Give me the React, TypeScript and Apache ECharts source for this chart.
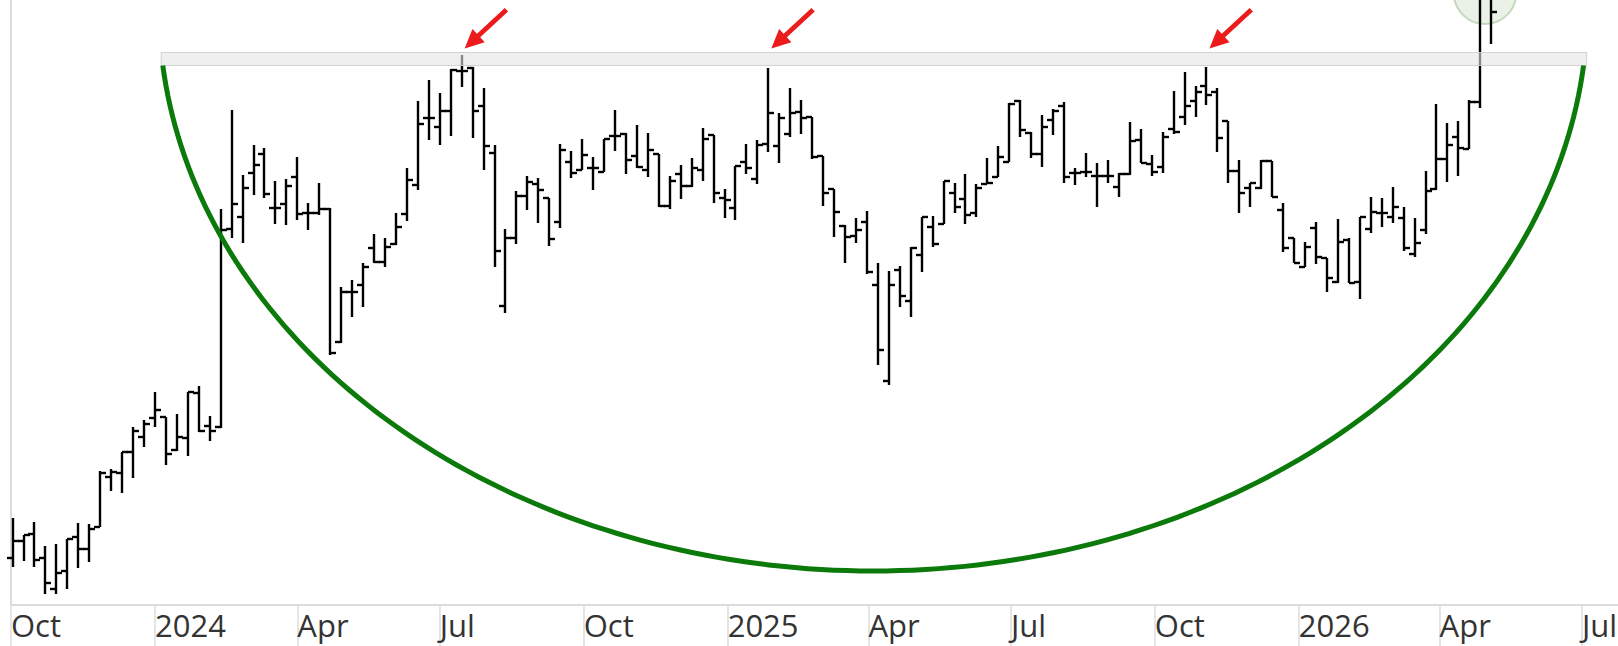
import React, { useEffect, useRef } from "react";
import * as echarts from "echarts";

const DAY_MS = 86400000;
const FIRST_WEEK = "2023-10-02";
const AXIS_START = "2023-10-01";
const AXIS_END = "2026-07-24";
const MONTHS = ["Jan", "Feb", "Mar", "Apr", "May", "Jun", "Jul", "Aug", "Sep", "Oct", "Nov", "Dec"];

// Weekly OHLC (one bar per week starting FIRST_WEEK)
const opens = [
  6.7, 8.4, 9.1, 6.7, 3.6, 5.4, 8.8, 7.6, 9.8, 14.8,
  15.2, 17.3, 18.8, 20.7, 20.8, 17.5, 18.7, 23.2, 19.9, 19.8,
  39.6, 40.8, 45.2, 47.1, 41.7, 42.1, 44.8, 41.2, 41.2, 41.6,
  28.3, 33.3, 34.0, 37.7, 36.3, 38.1, 41.1, 44.0, 50.7, 49.8,
  51.4, 55.4, 55.7, 51.9, 47.2, 31.9, 38.7, 42.9, 44.1, 42.7,
  40.3, 46.3, 45.5, 45.7, 45.3, 48.9, 49.1, 46.9, 45.5, 47.1,
  41.9, 45.1, 43.9, 45.5, 49.0, 42.7, 41.7, 46.3, 44.6, 48.1,
  47.9, 49.1, 51.3, 50.8, 46.9, 43.6, 39.9, 38.9, 40.3, 34.0,
  24.4, 35.5, 32.4, 37.0, 39.8, 40.1, 43.2, 42.6, 41.2, 44.1,
  44.8, 46.3, 52.4, 49.2, 47.1, 50.5, 51.9, 45.2, 45.3, 44.9,
  44.9, 43.8, 45.1, 48.5, 46.1, 45.8, 49.6, 50.8, 52.4, 53.9,
  53.3, 50.4, 45.4, 43.7, 43.7, 46.4, 41.5, 38.7, 35.8, 39.7,
  36.7, 34.3, 38.5, 34.3, 39.6, 41.2, 40.8, 40.7, 37.1, 39.5,
  43.6, 46.6, 48.8, 47.6, 52.3, 63.3,
];
const highs = [
  10.7, 9.0, 10.3, 7.9, 8.1, 8.6, 10.2, 10.1, 15.4, 15.6,
  17.3, 19.8, 20.5, 23.3, 20.8, 21.1, 23.3, 23.9, 20.9, 41.6,
  51.5, 45.0, 48.0, 47.7, 44.4, 44.6, 46.8, 42.2, 44.2, 41.7,
  33.8, 34.5, 36.2, 39.1, 38.7, 41.2, 45.7, 52.4, 54.5, 53.2,
  55.6, 57.0, 55.8, 53.7, 48.0, 39.6, 43.4, 44.9, 44.7, 42.7,
  48.1, 47.4, 48.6, 46.8, 48.6, 51.5, 49.2, 50.0, 49.2, 47.1,
  44.9, 46.0, 46.7, 49.7, 49.0, 43.6, 45.9, 48.1, 48.5, 55.7,
  51.2, 53.7, 52.5, 50.8, 46.9, 43.6, 40.0, 40.7, 41.4, 36.2,
  35.4, 35.9, 37.8, 40.8, 40.9, 44.4, 44.2, 45.1, 44.1, 46.7,
  47.9, 52.2, 52.5, 49.3, 51.0, 51.6, 52.3, 45.7, 47.2, 46.2,
  46.5, 45.2, 50.3, 49.6, 47.0, 49.3, 53.4, 55.3, 53.9, 55.8,
  53.7, 50.4, 46.5, 44.2, 46.5, 46.4, 42.2, 38.7, 38.3, 40.3,
  36.7, 40.6, 38.7, 40.8, 42.8, 42.7, 43.8, 41.8, 40.7, 45.4,
  52.1, 50.2, 50.4, 52.5, 65.0, 64.5,
];
const lows = [
  5.8, 6.4, 5.8, 3.1, 3.1, 3.6, 5.7, 6.3, 9.8, 13.4,
  13.2, 14.7, 17.8, 19.8, 16.0, 17.4, 16.9, 19.3, 18.4, 19.7,
  38.7, 38.2, 43.0, 42.7, 40.1, 40.0, 40.5, 39.5, 41.0, 27.0,
  28.2, 30.8, 31.8, 36.2, 35.8, 38.0, 40.4, 43.5, 48.5, 48.0,
  48.9, 53.8, 48.7, 45.5, 35.8, 31.2, 38.1, 41.5, 40.2, 37.9,
  39.7, 44.7, 45.5, 43.5, 45.3, 47.4, 45.1, 45.7, 44.8, 41.8,
  41.6, 42.6, 43.8, 44.4, 42.2, 40.7, 40.5, 45.1, 44.1, 47.3,
  46.2, 48.8, 49.1, 46.6, 41.9, 38.8, 36.2, 38.2, 35.1, 26.0,
  24.0, 31.8, 30.8, 35.3, 37.8, 40.1, 41.2, 40.1, 40.8, 44.1,
  44.8, 46.3, 48.8, 46.7, 45.8, 49.0, 44.2, 44.0, 44.8, 41.8,
  44.2, 42.8, 45.0, 46.2, 44.9, 45.2, 49.1, 50.0, 50.8, 52.0,
  47.3, 44.2, 41.2, 41.8, 43.6, 42.8, 37.3, 36.2, 35.8, 36.1,
  33.3, 34.2, 34.2, 32.6, 39.2, 39.8, 40.2, 37.4, 36.8, 39.1,
  43.5, 44.3, 44.9, 47.6, 51.7, 58.1,
];
const closes = [
  8.4, 9.0, 6.5, 4.2, 5.2, 8.6, 7.6, 9.6, 15.2, 15.3,
  17.3, 19.4, 20.1, 21.5, 17.1, 18.8, 23.3, 19.4, 19.4, 39.5,
  42.1, 43.7, 46.0, 43.1, 41.7, 43.9, 41.1, 41.2, 41.6, 27.2,
  33.3, 33.3, 35.8, 36.3, 37.8, 39.8, 44.5, 50.1, 50.7, 51.4,
  55.5, 55.4, 51.4, 47.9, 37.4, 38.7, 42.9, 44.3, 43.5, 38.6,
  47.5, 45.2, 47.0, 45.7, 48.6, 48.9, 46.5, 45.8, 47.5, 41.9,
  44.4, 43.9, 45.7, 48.6, 43.2, 42.5, 45.9, 45.7, 48.0, 51.2,
  50.7, 51.2, 50.7, 46.8, 43.2, 41.3, 38.8, 39.5, 35.3, 27.5,
  34.0, 32.9, 37.7, 40.8, 38.1, 44.4, 41.8, 41.0, 43.7, 44.2,
  46.8, 52.1, 49.5, 47.1, 49.8, 51.4, 44.8, 45.2, 45.3, 44.9,
  44.9, 45.1, 48.4, 46.2, 45.3, 48.8, 49.3, 51.9, 53.3, 53.0,
  48.7, 45.4, 43.2, 44.2, 46.4, 42.8, 37.7, 36.2, 37.8, 36.8,
  34.7, 38.3, 34.2, 40.8, 41.3, 41.2, 41.8, 37.7, 38.2, 43.4,
  46.6, 48.0, 47.7, 52.3, 63.5, 61.3,
];

// Annotations (data coordinates)
const resistanceFrom = "2024-01-05";
const resistanceTo = "2026-07-04";
const resistanceTop = 57.25;
const resistanceBottom = 55.95;
const cupFrom = "2024-01-06";
const cupTo = "2026-07-02";
const cupLowDate = "2025-04-04";
const cupLowPrice = 5.4;
const peakWeeks = [41, 69, 109];
const breakoutDate = "2026-04-30";
const breakoutPrice = 63.25;

const ts = (s: string) => Date.parse(s + "T00:00:00Z");

export default function App() {
  const ref = useRef<HTMLDivElement>(null);
  useEffect(() => {
    const chart = echarts.init(ref.current as HTMLDivElement, null, { renderer: "svg" });
    const weekTimes = opens.map((_, i) => ts(FIRST_WEEK) + i * 7 * DAY_MS);
    const data = weekTimes.map((t, i) => [t, opens[i], highs[i], lows[i], closes[i]]);

    chart.setOption({
      animation: false,
      useUTC: true,
      backgroundColor: "#ffffff",
      grid: { left: 11, right: 0, top: 0, bottom: 41, containLabel: false, outerBoundsMode: "none" },
      xAxis: {
        type: "time",
        min: ts(AXIS_START),
        max: ts(AXIS_END),
        splitNumber: 11,
        minInterval: 95 * DAY_MS,
        maxInterval: 95 * DAY_MS,
        axisLine: { show: true, lineStyle: { color: "#dcdcdc", width: 2 } },
        axisTick: { show: true, length: 45, lineStyle: { color: "#dcdcdc", width: 1.5 } },
        splitLine: { show: false },
        minorTick: { show: false },
        axisLabel: {
          show: true,
          align: "left",
          margin: 4,
          lineHeight: 31,
          padding: 0,
          fontFamily: "Open Sans",
          fontSize: 31,
          color: "#333333",
          hideOverlap: false,
          formatter: (value: number) => {
            const d = new Date(value);
            if (d.getUTCDate() !== 1) return "";
            const m = d.getUTCMonth();
            return m === 0 ? String(d.getUTCFullYear()) : MONTHS[m];
          },
        },
      },
      yAxis: {
        type: "value",
        min: 2,
        max: 62.5,
        axisLine: { show: true, lineStyle: { color: "#dcdcdc", width: 2 } },
        axisTick: { show: false },
        axisLabel: { show: false },
        splitLine: { show: false },
      },
      series: [
        {
          type: "custom",
          name: "Weekly",
          clip: false,
          z: 2,
          encode: { x: 0, y: [1, 2, 3, 4] },
          data,
          renderItem: (params: any, api: any) => {
            const t = api.value(0);
            const x = Math.round(api.coord([t, api.value(1)])[0]);
            const yO = Math.round(api.coord([t, api.value(1)])[1]);
            const yH = api.coord([t, api.value(2)])[1];
            const yL = api.coord([t, api.value(3)])[1];
            const yC = Math.round(api.coord([t, api.value(4)])[1]);
            const style = { stroke: "#000000", lineWidth: 2.4, fill: "none" };
            return {
              type: "group",
              children: [
                { type: "line", shape: { x1: x, y1: yH, x2: x, y2: yL }, style },
                { type: "line", shape: { x1: x - 6, y1: yO, x2: x, y2: yO }, style },
                { type: "line", shape: { x1: x, y1: yC, x2: x + 6, y2: yC }, style },
              ],
            };
          },
        },
      ],
    });

    const px = (t: number, v: number) =>
      chart.convertToPixel({ xAxisIndex: 0, yAxisIndex: 0 }, [t, v]) as number[];

    // resistance band
    const b1 = px(ts(resistanceFrom), resistanceTop);
    const b2 = px(ts(resistanceTo), resistanceBottom);

    // cup arc (elliptical segment through both rims and the low)
    const L = px(ts(cupFrom), resistanceBottom);
    const R = px(ts(cupTo), resistanceBottom);
    const B = px(ts(cupLowDate), cupLowPrice);
    const theta0 = 0.106;
    const xm = (L[0] + R[0]) / 2;
    const ry = (B[1] - L[1]) / (1 - Math.sin(theta0));
    const cy = B[1] - ry;
    const rx = (R[0] - L[0]) / 2 / Math.cos(theta0);
    const cupPts: number[][] = [];
    const N = 160;
    for (let k = 0; k <= N; k++) {
      const th = theta0 + ((Math.PI - 2 * theta0) * k) / N;
      cupPts.push([xm + rx * Math.cos(th), cy + ry * Math.sin(th)]);
    }

    // arrows
    const dir = [-0.733, 0.681];
    const nrm = [0.681, 0.733];
    const arrow = (tip: number[]) => {
      const headLen = 19, headHalf = 9, shaftHalf = 2.4, total = 57;
      const hb = [tip[0] - headLen * dir[0], tip[1] - headLen * dir[1]];
      const ta = [tip[0] - total * dir[0], tip[1] - total * dir[1]];
      return [
        tip,
        [hb[0] + headHalf * nrm[0], hb[1] + headHalf * nrm[1]],
        [hb[0] + shaftHalf * nrm[0], hb[1] + shaftHalf * nrm[1]],
        [ta[0] + shaftHalf * nrm[0], ta[1] + shaftHalf * nrm[1]],
        [ta[0] - shaftHalf * nrm[0], ta[1] - shaftHalf * nrm[1]],
        [hb[0] - shaftHalf * nrm[0], hb[1] - shaftHalf * nrm[1]],
        [hb[0] - headHalf * nrm[0], hb[1] - headHalf * nrm[1]],
      ];
    };
    const arrows = peakWeeks.map((w) => {
      const p = px(weekTimes[w], resistanceTop);
      return {
        type: "polygon",
        z: 20,
        shape: { points: arrow([p[0] + 3, p[1] - 4]) },
        style: { fill: "#ec1c1c" },
      };
    });

    const c = px(ts(breakoutDate), breakoutPrice);

    chart.setOption({
      graphic: [
        {
          type: "circle",
          z: 1,
          shape: { cx: c[0], cy: c[1], r: 31.5 },
          style: { fill: "rgba(125,175,105,0.16)", stroke: "rgba(110,160,90,0.35)", lineWidth: 2 },
        },
        {
          type: "rect",
          z: 15,
          shape: { x: b1[0], y: b1[1], width: b2[0] - b1[0], height: b2[1] - b1[1] },
          style: { fill: "rgba(228,228,228,0.6)", stroke: "rgba(205,205,205,0.9)", lineWidth: 1 },
        },
        {
          type: "polyline",
          z: 16,
          shape: { points: cupPts },
          style: { stroke: "#0b7a0b", lineWidth: 5, fill: "none" },
        },
        ...arrows,
      ],
    });

    return () => chart.dispose();
  }, []);
  return (
    <div
      ref={ref}
      style={{ position: "fixed", left: 0, top: 0, width: 1618, height: 646, background: "#ffffff" }}
    />
  );
}
